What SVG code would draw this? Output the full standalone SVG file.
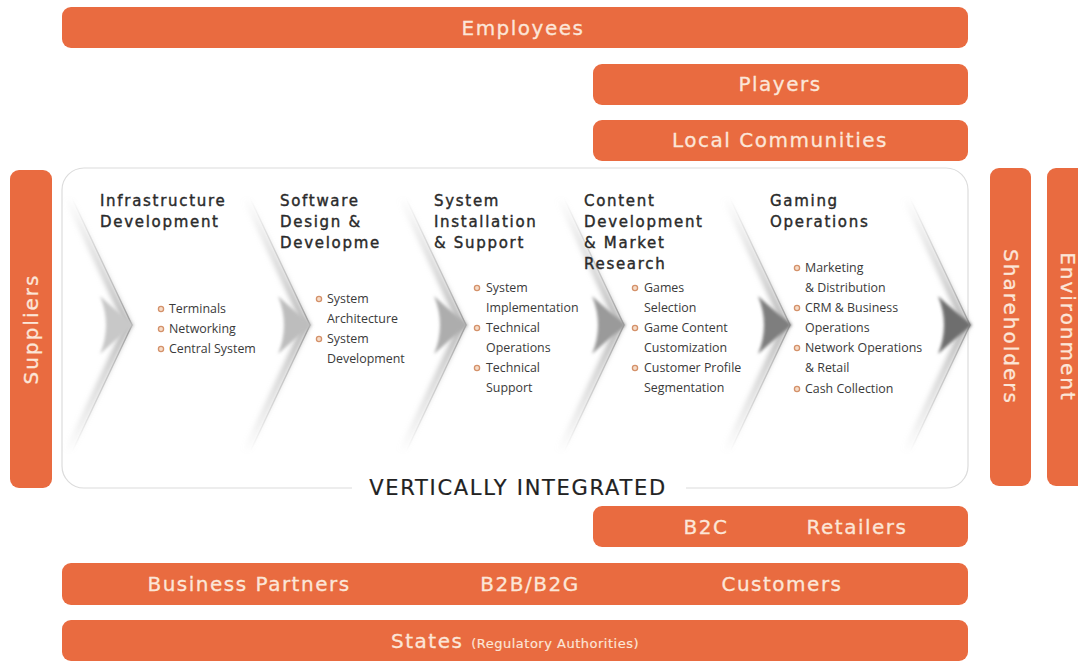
<svg xmlns="http://www.w3.org/2000/svg" width="1078" height="662" viewBox="0 0 1078 662">
<style>
.bar{fill:#E96B40}
.bt{font-family:"DejaVu Sans",sans-serif;font-size:20px;fill:#FCE6D8;stroke:#FCE6D8;stroke-width:0.3;letter-spacing:1.5px;text-anchor:middle}
.vt{font-family:"DejaVu Sans",sans-serif;font-size:20px;fill:#FCE6D8;stroke:#FCE6D8;stroke-width:0.3;letter-spacing:2px;text-anchor:middle}
.hd{font-family:"DejaVu Sans",sans-serif;font-size:15px;fill:#2a2a2a;stroke:#2a2a2a;stroke-width:0.4;letter-spacing:1.7px}
.it{font-family:"Open Sans","Liberation Sans",sans-serif;font-size:12.4px;fill:#3a3a3a}
.bl{fill:#F6DCC8;stroke:#D4916A;stroke-width:1.3}
.vi{font-family:"DejaVu Sans",sans-serif;font-size:21px;fill:#222;stroke:#222;stroke-width:0.2;letter-spacing:1.7px;text-anchor:middle}
.sh{fill:none;stroke:url(#fade);stroke-width:7;filter:url(#blur)}
.ln{fill:none;stroke:url(#fade2);stroke-width:1.4}
</style>
<defs>
<linearGradient id="fade" x1="0" y1="0" x2="0" y2="1">
<stop offset="0" stop-color="#bdbdbd" stop-opacity="0"/>
<stop offset="0.3" stop-color="#c4c4c4" stop-opacity="0.7"/>
<stop offset="0.5" stop-color="#b0b0b0" stop-opacity="1"/>
<stop offset="0.7" stop-color="#c4c4c4" stop-opacity="0.7"/>
<stop offset="1" stop-color="#bdbdbd" stop-opacity="0"/>
</linearGradient>
<linearGradient id="fade2" x1="0" y1="0" x2="0" y2="1">
<stop offset="0" stop-color="#aaa" stop-opacity="0"/>
<stop offset="0.35" stop-color="#b5b5b5" stop-opacity="0.8"/>
<stop offset="0.5" stop-color="#999" stop-opacity="1"/>
<stop offset="0.65" stop-color="#b5b5b5" stop-opacity="0.8"/>
<stop offset="1" stop-color="#aaa" stop-opacity="0"/>
</linearGradient>
<filter id="blur" x="-50%" y="-10%" width="200%" height="120%"><feGaussianBlur stdDeviation="2.5"/></filter>
<filter id="blur2" x="-50%" y="-50%" width="200%" height="200%"><feGaussianBlur stdDeviation="1.5"/></filter>
<path id="chev" d="M-60,198 L0,325 L-60,452"/>
<path id="tip" d="M-32,296 Q-12,314 2,325 Q-12,336 -32,354 Q-20,325 -32,296 Z"/>
</defs>

<g id="employees"><rect class="bar" x="62" y="7" width="906" height="41" rx="9"/><text class="bt" x="523" y="35">Employees</text></g>
<g id="players"><rect class="bar" x="593" y="64" width="375" height="41" rx="9"/><text class="bt" x="780" y="91">Players</text></g>
<g id="local-communities"><rect class="bar" x="593" y="120" width="375" height="41" rx="9"/><text class="bt" x="780" y="147">Local Communities</text></g>

<g id="suppliers"><rect class="bar" x="10" y="170" width="42" height="318" rx="9"/><text class="vt" transform="translate(38,329) rotate(-90)">Suppliers</text></g>
<g id="shareholders"><rect class="bar" x="990" y="168" width="41" height="318" rx="9"/><text class="vt" transform="translate(1004,327) rotate(90)">Shareholders</text></g>
<g id="environment"><rect class="bar" x="1047" y="168" width="50" height="318" rx="9"/><text class="vt" transform="translate(1061,327) rotate(90)">Environment</text></g>

<g id="panel">
<rect x="62" y="168" width="906" height="320" rx="22" fill="#fff" stroke="#dcdcdc" stroke-width="1.2"/>
<rect x="352" y="478" width="334" height="20" fill="#fff"/>
<text class="vi" x="518" y="495">VERTICALLY INTEGRATED</text>
</g>

<g id="connectors">
<g transform="translate(132,0)"><use href="#chev" class="sh" transform="translate(-4,0)"/><use href="#chev" class="ln"/><use href="#tip" fill="#c8c8c8" filter="url(#blur2)"/></g>
<g transform="translate(310,0)"><use href="#chev" class="sh" transform="translate(-4,0)"/><use href="#chev" class="ln"/><use href="#tip" fill="#bdbdbd" filter="url(#blur2)"/></g>
<g transform="translate(466,0)"><use href="#chev" class="sh" transform="translate(-4,0)"/><use href="#chev" class="ln"/><use href="#tip" fill="#adadad" filter="url(#blur2)"/></g>
<g transform="translate(624,0)"><use href="#chev" class="sh" transform="translate(-4,0)"/><use href="#chev" class="ln"/><use href="#tip" fill="#9a9a9a" filter="url(#blur2)"/></g>
<g transform="translate(790,0)"><use href="#chev" class="sh" transform="translate(-4,0)"/><use href="#chev" class="ln"/><use href="#tip" fill="#7e7e7e" filter="url(#blur2)"/></g>
<g transform="translate(970,0)"><use href="#chev" class="sh" transform="translate(-4,0)"/><use href="#chev" class="ln"/><use href="#tip" fill="#6e6e6e" filter="url(#blur2)"/></g>
</g>

<g id="infrastructure-development">
<text class="hd" x="100" y="206">Infrastructure</text>
<text class="hd" x="100" y="227">Development</text>
<circle class="bl" cx="161" cy="309" r="2.6"/><text class="it" x="169" y="313">Terminals</text>
<circle class="bl" cx="161" cy="329" r="2.6"/><text class="it" x="169" y="333">Networking</text>
<circle class="bl" cx="161" cy="349" r="2.6"/><text class="it" x="169" y="353">Central System</text>
</g>

<g id="software-design">
<text class="hd" x="280" y="206">Software</text>
<text class="hd" x="280" y="227">Design &amp;</text>
<text class="hd" x="280" y="248">Developme</text>
<circle class="bl" cx="319" cy="299" r="2.6"/><text class="it" x="327" y="303">System</text>
<text class="it" x="327" y="323">Architecture</text>
<circle class="bl" cx="319" cy="339" r="2.6"/><text class="it" x="327" y="343">System</text>
<text class="it" x="327" y="363">Development</text>
</g>

<g id="system-installation">
<text class="hd" x="434" y="206">System</text>
<text class="hd" x="434" y="227">Installation</text>
<text class="hd" x="434" y="248">&amp; Support</text>
<circle class="bl" cx="477" cy="288" r="2.6"/><text class="it" x="486" y="292">System</text>
<text class="it" x="486" y="312">Implementation</text>
<circle class="bl" cx="477" cy="328" r="2.6"/><text class="it" x="486" y="332">Technical</text>
<text class="it" x="486" y="352">Operations</text>
<circle class="bl" cx="477" cy="368" r="2.6"/><text class="it" x="486" y="372">Technical</text>
<text class="it" x="486" y="392">Support</text>
</g>

<g id="content-development">
<text class="hd" x="584" y="206">Content</text>
<text class="hd" x="584" y="227">Development</text>
<text class="hd" x="584" y="248">&amp; Market</text>
<text class="hd" x="584" y="269">Research</text>
<circle class="bl" cx="635" cy="288" r="2.6"/><text class="it" x="644" y="292">Games</text>
<text class="it" x="644" y="312">Selection</text>
<circle class="bl" cx="635" cy="328" r="2.6"/><text class="it" x="644" y="332">Game Content</text>
<text class="it" x="644" y="352">Customization</text>
<circle class="bl" cx="635" cy="368" r="2.6"/><text class="it" x="644" y="372">Customer Profile</text>
<text class="it" x="644" y="392">Segmentation</text>
</g>

<g id="gaming-operations">
<text class="hd" x="770" y="206">Gaming</text>
<text class="hd" x="770" y="227">Operations</text>
<circle class="bl" cx="797" cy="268" r="2.6"/><text class="it" x="805" y="272">Marketing</text>
<text class="it" x="805" y="292">&amp; Distribution</text>
<circle class="bl" cx="797" cy="308" r="2.6"/><text class="it" x="805" y="312">CRM &amp; Business</text>
<text class="it" x="805" y="332">Operations</text>
<circle class="bl" cx="797" cy="348" r="2.6"/><text class="it" x="805" y="352">Network Operations</text>
<text class="it" x="805" y="372">&amp; Retail</text>
<circle class="bl" cx="797" cy="389" r="2.6"/><text class="it" x="805" y="393">Cash Collection</text>
</g>

<g id="b2c-retailers"><rect class="bar" x="593" y="506" width="375" height="41" rx="9"/><text class="bt" x="706" y="534">B2C</text><text class="bt" x="857" y="534">Retailers</text></g>
<g id="business-partners"><rect class="bar" x="62" y="563" width="906" height="42" rx="9"/><text class="bt" x="249" y="591">Business Partners</text><text class="bt" x="530" y="591">B2B/B2G</text><text class="bt" x="782" y="591">Customers</text></g>
<g id="states"><rect class="bar" x="62" y="620" width="906" height="41" rx="9"/><text class="bt" x="515" y="648">States <tspan style="font-size:13px;letter-spacing:0.5px;stroke-width:0.15">(Regulatory Authorities)</tspan></text></g>
</svg>
